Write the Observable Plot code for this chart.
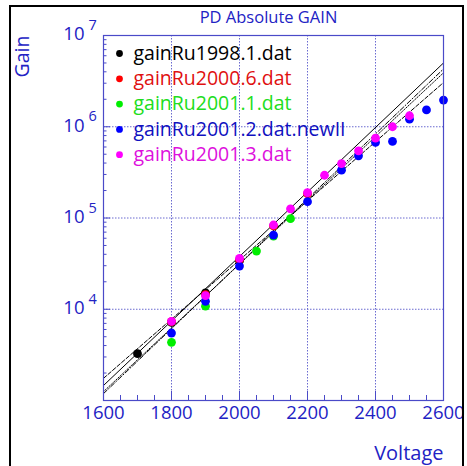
<!DOCTYPE html>
<html>
<head>
<meta charset="utf-8">
<script src="https://cdn.jsdelivr.net/npm/d3@7"></script>
<script src="https://cdn.jsdelivr.net/npm/@observablehq/plot@0.6"></script>
<style>
  html, body { margin: 0; padding: 0; background: #fff; }
  #wrap { position: relative; width: 467px; height: 466px; overflow: hidden; }
  #border { position: absolute; left: 9px; top: 5px; width: 451px; height: 480px; border: 2.5px solid #000; pointer-events: none; }
  svg { display: block; }
</style>
</head>
<body>
<div id="wrap"><div id="border"></div></div>
<script>
// ---- data ----
const seriesNames = ["gainRu1998.1.dat", "gainRu2000.6.dat", "gainRu2001.1.dat", "gainRu2001.2.dat.newII", "gainRu2001.3.dat"];
const seriesColors = ["#000000", "#ff0000", "#00ee00", "#0000ff", "#ff00ff"];
const legendTextColors = ["#000000", "#e01010", "#20dd20", "#1010c0", "#dd10dd"];

const v1998 = [1700, 1800, 1900, 2000];
const g1998 = [3260, 7200, 15100, 34000];
const v2000 = [1800, 1900, 2000, 2100, 2200];
const g2000 = [7300, 14500, 35000, 82000, 185000];
const v2001a = [1800, 1900, 2050, 2100, 2150];
const g2001a = [4340, 10800, 43400, 63400, 98200];
const v2001b = [1800, 1900, 2000, 2100, 2200, 2300, 2350, 2400, 2450, 2500, 2550, 2600];
const g2001b = [5490, 12200, 29700, 65000, 151000, 334000, 480000, 673000, 690000, 1210000, 1530000, 1960000];
const v2001c = [1800, 1900, 2000, 2100, 2150, 2200, 2250, 2300, 2350, 2400, 2450, 2500];
const g2001c = [7380, 14100, 36100, 83800, 126000, 190000, 294000, 395000, 545000, 751000, 1000000, 1320000];

// fit curves (end points)
const fitV = [1600, 2600];
const fitSolid = [1460, 5000000];
const fitDashed = [1750, 3050000];
const fitDotted = [1250, 3900000];
const fitDashDot = [1190, 4300000];

const xTickLabels = [1600, 1800, 2000, 2200, 2400, 2600];
const xMinorTicks = d3.range(1600, 2601, 50);
const xGrid = [1800, 2000, 2200, 2400];
const yMajor = [1e4, 1e5, 1e6, 1e7];
const yGrid = [1e4, 1e5, 1e6];
const yMinor = [3, 4, 5, 6].flatMap(k => [2, 3, 4, 5, 6, 7, 8, 9].map(m => m * 10 ** k));

// ---- build ----
const seriesV = [v1998, v2000, v2001a, v2001b, v2001c];
const seriesG = [g1998, g2000, g2001a, g2001b, g2001c];
const points = seriesV.flatMap((vs, s) => vs.map((v, i) => ({v, g: seriesG[s][i], s})));
const fits = [
  {vals: fitSolid, dash: null},
  {vals: fitDashed, dash: "4,2"},
  {vals: fitDotted, dash: "1,1.5"},
  {vals: fitDashDot, dash: "5,2,1,2"}
];

const blue = "#2222c4";
const frameBlue = "#4a4ac8";
const gridBlue = "#6a6ad0";

const legendMarks = seriesNames.flatMap((name, i) => [
  Plot.dot([name], {frameAnchor: "top-left", dx: 16, dy: 18 + i * 25.3, r: 3.4, fill: seriesColors[i], stroke: "none"}),
  Plot.text([name], {frameAnchor: "top-left", dx: 30, dy: 18 + i * 25.3, text: d => d, textAnchor: "start", lineAnchor: "middle", fontSize: 19.5, fill: legendTextColors[i]})
]);

const chart = Plot.plot({
  width: 467,
  height: 466,
  marginLeft: 103,
  marginRight: 24,
  marginTop: 35,
  marginBottom: 66,
  style: {fontFamily: "Open Sans", background: "transparent"},
  x: {domain: [1600, 2600], axis: null},
  y: {type: "log", domain: [1e3, 1e7], axis: null},
  marks: [
    Plot.gridX(xGrid, {stroke: gridBlue, strokeOpacity: 1, strokeDasharray: "1.5,1.5"}),
    Plot.gridY(yGrid, {stroke: gridBlue, strokeOpacity: 1, strokeDasharray: "1.5,1.5"}),
    Plot.axisX(xMinorTicks, {anchor: "bottom", label: null, tickSize: -5, tickFormat: () => "", stroke: frameBlue}),
    Plot.axisX(xTickLabels, {anchor: "bottom", label: null, tickSize: -9, tickFormat: () => "", stroke: frameBlue}),
    Plot.axisX(xTickLabels, {anchor: "bottom", label: null, tickSize: 0, tickPadding: 5, fontSize: 18.5, fill: blue, tickFormat: d => String(d)}),
    Plot.axisY(yMinor, {anchor: "left", label: null, tickSize: -3.5, tickFormat: () => "", stroke: frameBlue}),
    Plot.axisY(yMajor, {anchor: "left", label: null, tickSize: -7, tickFormat: () => "", stroke: frameBlue}),
    Plot.text(yMajor, {y: d => d, frameAnchor: "left", text: () => "10", textAnchor: "end", lineAnchor: "middle", dx: -19, dy: -1, fontSize: 18.5, fill: blue}),
    Plot.text(yMajor, {y: d => d, frameAnchor: "left", text: d => String(Math.round(Math.log10(d))), textAnchor: "start", lineAnchor: "middle", dx: -15, dy: -10, fontSize: 14.5, fill: blue}),
    ...fits.map(f => Plot.line(fitV.map((v, i) => ({v, g: f.vals[i]})), {x: "v", y: "g", stroke: "#000", strokeWidth: 1, strokeDasharray: f.dash, clip: true})),
    Plot.dot(points, {x: "v", y: "g", r: 4.4, fill: d => seriesColors[d.s], stroke: "none"}),
    Plot.frame({stroke: frameBlue, strokeWidth: 1.2}),
    ...legendMarks,
    Plot.text(["PD Absolute GAIN"], {frameAnchor: "top", text: d => d, dx: -5, dy: -17.5, lineAnchor: "middle", fontSize: 16.5, fill: blue}),
    Plot.text(["Gain"], {frameAnchor: "top-left", text: d => d, rotate: -90, textAnchor: "end", lineAnchor: "middle", dx: -81, dy: 0, fontSize: 19.5, fill: blue}),
    Plot.text(["Voltage"], {frameAnchor: "bottom-right", text: d => d, textAnchor: "end", lineAnchor: "middle", dx: 0, dy: 53.5, fontSize: 20, fill: blue})
  ]
});
document.getElementById("wrap").prepend(chart);
</script>
</body>
</html>
